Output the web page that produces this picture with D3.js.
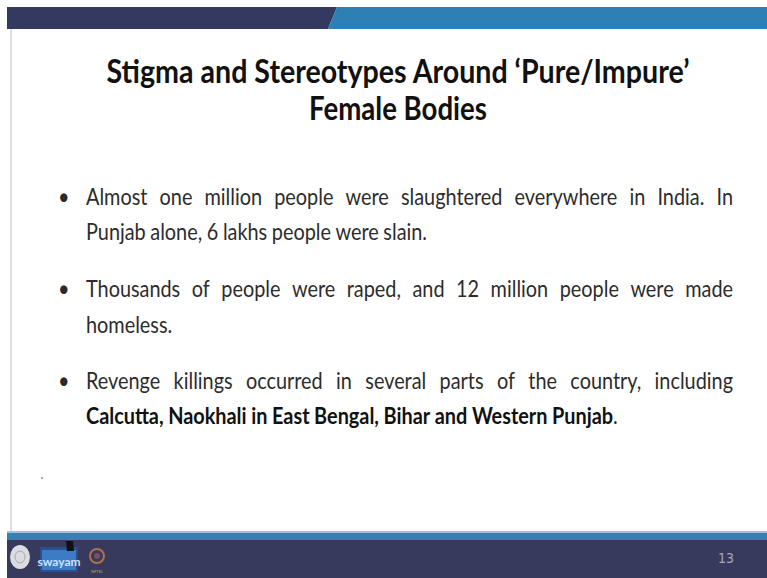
<!DOCTYPE html>
<html>
<head>
<meta charset="utf-8">
<script src="https://cdn.jsdelivr.net/npm/d3@7"></script>
<style>
  body { margin: 0; background: #fff; }
  svg { display: block; }
</style>
</head>
<body>
<svg id="slide" width="767" height="578"></svg>
<script>
// slide texts
var titleLines = ["Stigma and Stereotypes Around \u2018Pure/Impure\u2019", "Female Bodies"];
var titleWidths = [583, 178];

// each bullet: list of lines, each line: list of [text, bold]
var bullets = [
  [
    [["Almost one million people were slaughtered everywhere in India. In", false]],
    [["Punjab alone, 6 lakhs people were slain.", false]]
  ],
  [
    [["Thousands of people were raped, and 12 million people were made", false]],
    [["homeless.", false]]
  ],
  [
    [["Revenge killings occurred in several parts of the country, including", false]],
    [["Calcutta, Naokhali in East Bengal, Bihar and Western Punjab", true], [".", false]]
  ]
];

var pageNumber = "13";

var svg = d3.select("#slide");
var fontBody = "Lato, 'Open Sans', sans-serif";
var stretch = 1.13; // calibri glyphs are taller than lato at the same width

// top bar
svg.append("polygon").attr("points", "7,7 337,7 328,29 7,29").attr("fill", "#343a5f");
svg.append("polygon").attr("points", "337,7 767,7 767,29 328,29").attr("fill", "#2e7fb4");

// left border
svg.append("line").attr("x1", 11).attr("x2", 11).attr("y1", 29).attr("y2", 532)
  .attr("stroke", "#c8c8cc").attr("stroke-width", 1.2);
svg.append("circle").attr("cx", 42).attr("cy", 478).attr("r", 0.9).attr("fill", "#8a6f80");

// bottom bar
svg.append("rect").attr("x", 7).attr("y", 531).attr("width", 760).attr("height", 10).attr("fill", "#3780b2");
svg.append("rect").attr("x", 7).attr("y", 531).attr("width", 760).attr("height", 2).attr("fill", "#9cc4df");
svg.append("rect").attr("x", 7).attr("y", 540).attr("width", 760).attr("height", 38).attr("fill", "#373a5d");

// logos
var lg = svg.append("g");
lg.append("ellipse").attr("cx", 20).attr("cy", 557).attr("rx", 10).attr("ry", 12).attr("fill", "#dcdce0");
lg.append("ellipse").attr("cx", 20).attr("cy", 557).attr("rx", 5).attr("ry", 6).attr("fill", "none").attr("stroke", "#a8a8b0").attr("stroke-width", 1);
lg.append("rect").attr("x", 48).attr("y", 563).attr("width", 6).attr("height", 8).attr("fill", "#55586f");
lg.append("rect").attr("x", 40).attr("y", 547).attr("width", 38).attr("height", 25).attr("fill", "#2a4f8f");
lg.append("rect").attr("x", 42).attr("y", 550).attr("width", 34).attr("height", 20).attr("fill", "#3b7cc4");
lg.append("text").attr("x", 59).attr("y", 566).attr("text-anchor", "middle")
  .attr("font-family", fontBody).attr("font-size", 12).attr("font-weight", "bold")
  .attr("fill", "#cfe4ff").text("swayam");
lg.append("path").attr("d", "M66,541 L73,541 L74,551 L67,551 Z").attr("fill", "#111");
lg.append("circle").attr("cx", 97).attr("cy", 556).attr("r", 7).attr("fill", "none")
  .attr("stroke", "#b0704a").attr("stroke-width", 2);
lg.append("circle").attr("cx", 97).attr("cy", 556).attr("r", 3).attr("fill", "#7a5060");
lg.append("text").attr("x", 97).attr("y", 573).attr("text-anchor", "middle")
  .attr("font-family", fontBody).attr("font-size", 4).attr("fill", "#c9a050").text("NPTEL");

// page number
svg.append("text").attr("x", 734).attr("y", 563).attr("text-anchor", "end")
  .attr("font-family", "'Liberation Sans Narrow', 'DejaVu Sans Condensed', sans-serif")
  .attr("font-size", 14).attr("fill", "#a6a8b8").text(pageNumber);

// title
var titleBase = [83, 120];
titleLines.forEach(function (t, i) {
  svg.append("g").attr("transform", "translate(398," + titleBase[i] + ") scale(1," + 1.06 + ")")
    .append("text").attr("x", 0).attr("y", 0).attr("text-anchor", "middle")
    .attr("font-family", fontBody).attr("font-weight", "bold").attr("font-size", 31)
    .attr("fill", "#111").attr("textLength", titleWidths[i]).attr("lengthAdjust", "spacingAndGlyphs")
    .text(t);
});

// body font size fitted to a reference line width
var probe = svg.append("text").attr("font-family", fontBody).attr("font-size", 20)
  .text("Punjab alone, 6 lakhs people were slain.");
var bodySize = 20 * 344 / probe.node().getComputedTextLength();
probe.remove();

var left = 86, right = 733;
var baselines = [[205, 240], [297, 333], [389, 424]];

function wordsOf(line) {
  var out = [];
  line.forEach(function (seg) {
    seg[0].split(" ").forEach(function (w, k) {
      if (w === "") return;
      if (k === 0 && out.length && /^[\.,]/.test(w)) {
        out[out.length - 1].parts.push([w, seg[1]]);
      } else {
        out.push({ parts: [[w, seg[1]]] });
      }
    });
  });
  return out;
}

bullets.forEach(function (b, bi) {
  svg.append("g").attr("transform", "translate(58," + baselines[bi][0] + ") scale(1," + stretch + ")")
    .append("text").attr("font-family", fontBody)
    .attr("font-size", bodySize).attr("fill", "#2a2a2a").text("\u2022");
  b.forEach(function (line, li) {
    var y = baselines[bi][li];
    var justify = li < b.length - 1;
    var words = wordsOf(line);
    var g = svg.append("g").attr("transform", "translate(0," + y + ") scale(1," + stretch + ")");
    var widths = words.map(function (w) {
      var t = g.append("text").attr("y", 0).attr("font-family", fontBody)
        .attr("font-size", bodySize).attr("fill", "#2c2c2c");
      w.parts.forEach(function (p) {
        t.append("tspan").attr("font-weight", p[1] ? "bold" : "normal")
          .attr("fill", p[1] ? "#111" : "#2c2c2c").text(p[0]);
      });
      w.node = t;
      return t.node().getComputedTextLength();
    });
    var space = bodySize * 0.23;
    if (justify) {
      space = (right - left - d3.sum(widths)) / (words.length - 1);
    }
    var x = left;
    words.forEach(function (w, k) {
      w.node.attr("x", x);
      x += widths[k] + space;
    });
  });
});
</script>
</body>
</html>
